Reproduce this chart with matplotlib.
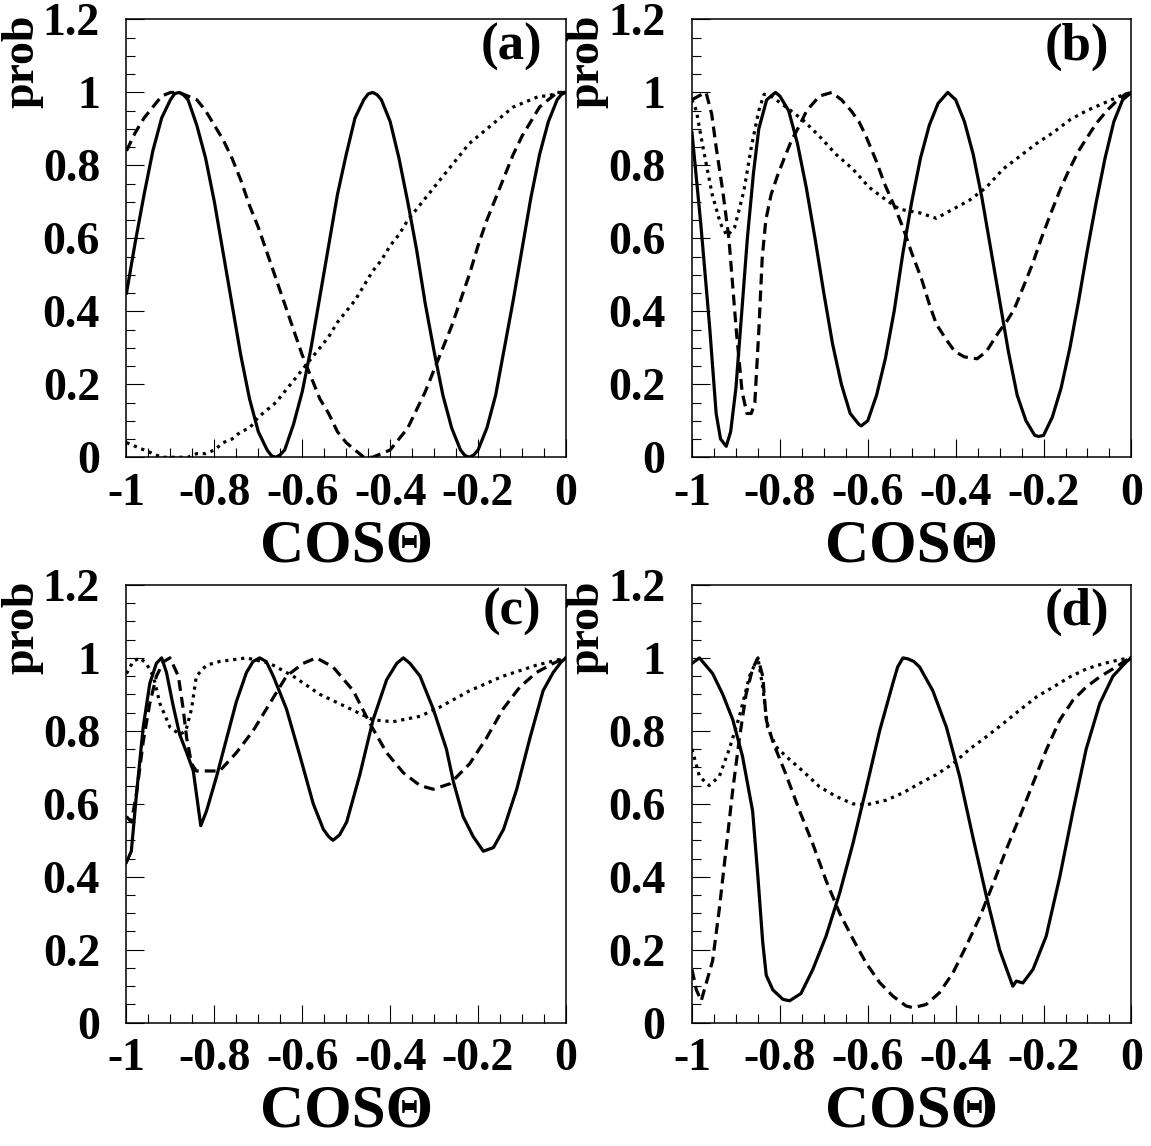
import numpy as np
import matplotlib.pyplot as plt
from matplotlib.ticker import MultipleLocator

plt.rcParams['font.family'] = ['Liberation Serif', 'DejaVu Serif']
plt.rcParams['font.weight'] = 'bold'

# ---- panel (a)
a_solid_x = [-1.00, -0.98, -0.96, -0.94, -0.92, -0.90, -0.89, -0.88, -0.87, -0.86, -0.84, -0.82, -0.80, -0.78,
             -0.76, -0.74, -0.72, -0.70, -0.68, -0.67, -0.66, -0.65, -0.64, -0.62, -0.60, -0.58, -0.56, -0.54,
             -0.52, -0.50, -0.48, -0.46, -0.45, -0.44, -0.43, -0.42, -0.40, -0.38, -0.36, -0.34, -0.32, -0.30,
             -0.28, -0.26, -0.24, -0.23, -0.22, -0.21, -0.20, -0.18, -0.16, -0.14, -0.12, -0.10, -0.08, -0.06,
             -0.04, -0.02, -0.01, 0.0]
a_solid_y = [0.45, 0.59, 0.72, 0.84, 0.93, 0.98, 0.997, 1.00, 0.993, 0.98, 0.91, 0.82, 0.70, 0.56, 0.42, 0.28,
             0.16, 0.07, 0.02, 0.004, 0.00, 0.007, 0.02, 0.09, 0.18, 0.30, 0.44, 0.58, 0.72, 0.83, 0.93, 0.98,
             0.996, 1.00, 0.994, 0.98, 0.92, 0.82, 0.70, 0.57, 0.42, 0.29, 0.17, 0.08, 0.02, 0.005, 0.00, 0.006,
             0.02, 0.08, 0.17, 0.30, 0.43, 0.57, 0.71, 0.83, 0.92, 0.98, 0.995, 1.00]
xa = np.round(np.arange(-1.0, 0.001, 0.02), 2)
a_dash = [0.84, 0.89, 0.93, 0.96, 0.99, 1.00, 1.00, 0.99, 0.98, 0.95, 0.91, 0.87, 0.82, 0.76, 0.69, 0.63, 0.56,
          0.49, 0.42, 0.35, 0.28, 0.22, 0.16, 0.12, 0.07, 0.04, 0.02, 0.00, 0.00, 0.01, 0.02, 0.05, 0.08, 0.13,
          0.18, 0.24, 0.30, 0.36, 0.43, 0.50, 0.58, 0.65, 0.71, 0.77, 0.83, 0.88, 0.92, 0.96, 0.98, 1.00, 1.00]
a_dot = [0.04, 0.03, 0.02, 0.01, 0.00, 0.00, 0.00, 0.00, 0.01, 0.01, 0.02, 0.04, 0.05, 0.07, 0.08, 0.11, 0.13,
         0.15, 0.18, 0.21, 0.24, 0.27, 0.30, 0.33, 0.37, 0.40, 0.43, 0.47, 0.51, 0.54, 0.58, 0.61, 0.65, 0.68,
         0.71, 0.74, 0.77, 0.80, 0.83, 0.86, 0.88, 0.90, 0.92, 0.94, 0.96, 0.97, 0.98, 0.99, 0.99, 1.00, 1.00]

# ---- panel (b)
b_solid_x = [-1.0, -0.98, -0.96, -0.945, -0.935, -0.922, -0.912, -0.90, -0.886, -0.874, -0.86, -0.848, -0.83,
             -0.81, -0.80, -0.78, -0.76, -0.74, -0.72, -0.70, -0.68, -0.66, -0.64, -0.62, -0.615, -0.60, -0.58,
             -0.56, -0.54, -0.52, -0.50, -0.48, -0.46, -0.44, -0.418, -0.40, -0.38, -0.36, -0.34, -0.32, -0.30,
             -0.28, -0.26, -0.24, -0.22, -0.211, -0.20, -0.18, -0.16, -0.14, -0.12, -0.10, -0.08, -0.06, -0.04,
             -0.02, 0.0]
b_solid_y = [0.89, 0.64, 0.36, 0.12, 0.05, 0.03, 0.07, 0.19, 0.41, 0.60, 0.78, 0.90, 0.98, 1.00, 0.99, 0.95,
             0.86, 0.74, 0.60, 0.45, 0.31, 0.20, 0.12, 0.09, 0.086, 0.10, 0.17, 0.27, 0.40, 0.56, 0.70, 0.82, 0.91,
             0.97, 1.00, 0.98, 0.92, 0.83, 0.71, 0.57, 0.43, 0.29, 0.17, 0.10, 0.06, 0.057, 0.06, 0.11, 0.19, 0.30,
             0.43, 0.57, 0.70, 0.82, 0.92, 0.98, 1.00]
b_dash_x = [-1.0, -0.985, -0.968, -0.955, -0.945, -0.93, -0.916, -0.899, -0.886, -0.875, -0.865, -0.857, -0.848,
            -0.840, -0.832, -0.82, -0.806, -0.79, -0.773, -0.755, -0.739, -0.71, -0.682, -0.66, -0.638, -0.62,
            -0.604, -0.58, -0.562, -0.54, -0.52, -0.50, -0.478, -0.46, -0.444, -0.42, -0.402, -0.38, -0.351,
            -0.33, -0.301, -0.285, -0.267, -0.245, -0.225, -0.205, -0.183, -0.16, -0.141, -0.12, -0.099, -0.08,
            -0.056, -0.035, -0.014, 0.0]
b_dash_y = [0.98, 0.99, 1.00, 0.94, 0.85, 0.73, 0.60, 0.345, 0.18, 0.12, 0.12, 0.15, 0.345, 0.55, 0.65, 0.72,
            0.77, 0.82, 0.87, 0.91, 0.95, 0.99, 1.00, 0.98, 0.95, 0.92, 0.88, 0.81, 0.75, 0.69, 0.63, 0.56, 0.49,
            0.42, 0.365, 0.32, 0.29, 0.275, 0.27, 0.29, 0.345, 0.37, 0.405, 0.47, 0.53, 0.60, 0.67, 0.74, 0.79,
            0.84, 0.88, 0.915, 0.95, 0.975, 0.995, 1.0]
b_dot_x = [-1.0, -0.99, -0.975, -0.954, -0.935, -0.92, -0.903, -0.882, -0.865, -0.848, -0.836, -0.82, -0.786,
           -0.748, -0.71, -0.672, -0.634, -0.597, -0.558, -0.528, -0.482, -0.444, -0.406, -0.368, -0.33, -0.292,
           -0.254, -0.216, -0.178, -0.14, -0.102, -0.064, -0.026, 0.0]
b_dot_y = [0.98, 0.95, 0.85, 0.72, 0.64, 0.607, 0.63, 0.73, 0.85, 0.95, 0.995, 0.99, 0.96, 0.925, 0.88, 0.83,
           0.79, 0.74, 0.705, 0.68, 0.67, 0.655, 0.68, 0.705, 0.74, 0.79, 0.825, 0.86, 0.89, 0.925, 0.95, 0.97,
           0.99, 1.0]

# ---- panel (c)
c_solid_x = [-1.0, -0.989, -0.977, -0.962, -0.947, -0.932, -0.92, -0.909, -0.894, -0.879, -0.863, -0.848,
             -0.831, -0.818, -0.795, -0.772, -0.75, -0.727, -0.712, -0.697, -0.682, -0.666, -0.636, -0.605,
             -0.575, -0.552, -0.54, -0.53, -0.515, -0.499, -0.469, -0.439, -0.408, -0.385, -0.37, -0.355, -0.332,
             -0.302, -0.272, -0.256, -0.234, -0.211, -0.188, -0.165, -0.142, -0.112, -0.082, -0.052, -0.029,
             -0.01, 0.0]
c_solid_y = [0.44, 0.47, 0.63, 0.81, 0.93, 0.985, 1.0, 0.96, 0.87, 0.79, 0.74, 0.69, 0.54, 0.58, 0.675, 0.78,
             0.88, 0.96, 0.99, 1.0, 0.99, 0.95, 0.86, 0.73, 0.60, 0.53, 0.51, 0.50, 0.515, 0.55, 0.68, 0.83, 0.94,
             0.985, 1.0, 0.985, 0.95, 0.86, 0.75, 0.66, 0.565, 0.51, 0.47, 0.48, 0.53, 0.64, 0.78, 0.91, 0.96,
             0.99, 1.0]
c_dash_x = [-1.0, -0.989, -0.977, -0.962, -0.947, -0.932, -0.915, -0.901, -0.882, -0.871, -0.863, -0.852,
            -0.841, -0.826, -0.788, -0.75, -0.712, -0.674, -0.636, -0.598, -0.568, -0.53, -0.484, -0.446,
            -0.408, -0.37, -0.332, -0.302, -0.264, -0.219, -0.181, -0.143, -0.105, -0.067, -0.029, 0.0]
c_dash_y = [0.565, 0.55, 0.63, 0.77, 0.875, 0.95, 0.99, 1.0, 0.95, 0.86, 0.78, 0.71, 0.69, 0.69, 0.69, 0.74,
            0.80, 0.875, 0.95, 0.985, 1.0, 0.975, 0.91, 0.82, 0.74, 0.685, 0.65, 0.64, 0.655, 0.71, 0.78, 0.86,
            0.92, 0.96, 0.985, 1.0]
c_dot_x = [-1.0, -0.985, -0.97, -0.955, -0.939, -0.924, -0.901, -0.879, -0.865, -0.852, -0.841, -0.818, -0.788,
           -0.727, -0.674, -0.621, -0.56, -0.499, -0.439, -0.393, -0.332, -0.287, -0.219, -0.143, -0.067, 0.0]
c_dot_y = [0.957, 0.99, 1.0, 0.985, 0.95, 0.875, 0.81, 0.79, 0.80, 0.86, 0.95, 0.98, 0.99, 1.0, 0.985, 0.95,
           0.90, 0.865, 0.83, 0.825, 0.84, 0.865, 0.91, 0.95, 0.98, 1.0]

# ---- panel (d)
d_solid_x = [-1.0, -0.983, -0.953, -0.93, -0.907, -0.885, -0.862, -0.85, -0.839, -0.831, -0.816, -0.793, -0.778,
             -0.752, -0.725, -0.695, -0.664, -0.634, -0.604, -0.573, -0.543, -0.532, -0.52, -0.508, -0.495,
             -0.482, -0.452, -0.421, -0.391, -0.361, -0.33, -0.30, -0.27, -0.262, -0.247, -0.224, -0.194, -0.163,
             -0.133, -0.103, -0.072, -0.042, -0.011, 0.0]
d_solid_y = [0.985, 1.0, 0.957, 0.90, 0.83, 0.73, 0.58, 0.40, 0.22, 0.13, 0.09, 0.064, 0.06, 0.08, 0.146, 0.237,
             0.355, 0.49, 0.64, 0.80, 0.93, 0.975, 1.0, 0.997, 0.99, 0.975, 0.91, 0.81, 0.675, 0.51, 0.346, 0.20,
             0.10, 0.114, 0.109, 0.146, 0.237, 0.40, 0.58, 0.75, 0.875, 0.95, 0.99, 1.0]
d_dash_x = [-1.0, -0.99, -0.979, -0.953, -0.938, -0.923, -0.907, -0.892, -0.877, -0.862, -0.85, -0.839, -0.831,
            -0.816, -0.786, -0.755, -0.725, -0.695, -0.664, -0.634, -0.604, -0.573, -0.543, -0.513, -0.497,
            -0.467, -0.437, -0.406, -0.376, -0.345, -0.315, -0.285, -0.254, -0.224, -0.194, -0.163, -0.133,
            -0.103, -0.072, -0.042, -0.011, 0.0]
d_dash_y = [0.146, 0.09, 0.06, 0.17, 0.31, 0.47, 0.64, 0.78, 0.90, 0.97, 1.0, 0.95, 0.83, 0.77, 0.68, 0.58, 0.49,
            0.39, 0.30, 0.23, 0.164, 0.11, 0.073, 0.046, 0.041, 0.05, 0.082, 0.137, 0.21, 0.29, 0.38, 0.474,
            0.565, 0.656, 0.747, 0.83, 0.884, 0.92, 0.948, 0.97, 0.994, 1.0]
d_dot_x = [-1.0, -0.983, -0.961, -0.938, -0.915, -0.892, -0.869, -0.854, -0.85, -0.839, -0.828, -0.809, -0.786,
           -0.748, -0.71, -0.672, -0.634, -0.604, -0.558, -0.52, -0.482, -0.444, -0.406, -0.368, -0.33, -0.292,
           -0.254, -0.216, -0.178, -0.14, -0.102, -0.065, -0.027, 0.0]
d_dot_y = [0.75, 0.675, 0.65, 0.675, 0.75, 0.84, 0.95, 0.99, 1.0, 0.92, 0.81, 0.757, 0.73, 0.69, 0.647, 0.62,
           0.60, 0.597, 0.61, 0.63, 0.656, 0.68, 0.71, 0.75, 0.784, 0.82, 0.857, 0.893, 0.92, 0.948, 0.97, 0.984,
           0.995, 1.0]

panels = [
    ('(a)', (a_solid_x, a_solid_y), (xa, a_dash), (xa, a_dot)),
    ('(b)', (b_solid_x, b_solid_y), (b_dash_x, b_dash_y), (b_dot_x, b_dot_y)),
    ('(c)', (c_solid_x, c_solid_y), (c_dash_x, c_dash_y), (c_dot_x, c_dot_y)),
    ('(d)', (d_solid_x, d_solid_y), (d_dash_x, d_dash_y), (d_dot_x, d_dot_y)),
]
xticks = [-1, -0.8, -0.6, -0.4, -0.2, 0]
xticklabels = ['-1', '-0.8', '-0.6', '-0.4', '-0.2', '0']
yticks = [0, 0.2, 0.4, 0.6, 0.8, 1.0, 1.2]
yticklabels = ['0', '0.2', '0.4', '0.6', '0.8', '1', '1.2']

# axes rectangles in figure fractions
lefts = [0.1099, 0.6012, 0.1099, 0.6012]
bottoms = [0.601, 0.601, 0.1076, 0.1076]
w, h = 0.3818, 0.382

fig = plt.figure(figsize=(11.51, 11.46), dpi=100)
lw = 2.3
for k, (lab, s, d, o) in enumerate(panels):
    ax = fig.add_axes([lefts[k], bottoms[k], w, h])
    ax.plot(s[0], s[1], color='black', lw=lw, solid_joinstyle='round')
    ax.plot(d[0], d[1], color='black', lw=lw, dashes=(3.4, 1.9), dash_capstyle='butt')
    ax.plot(o[0], o[1], color='black', lw=lw, dashes=(1.0, 1.5), dash_capstyle='butt')
    ax.set_xlim(-1, 0)
    ax.set_ylim(0, 1.2)
    ax.set_xticks(xticks)
    ax.set_xticklabels(xticklabels)
    ax.set_yticks(yticks)
    ax.set_yticklabels(yticklabels)
    ax.xaxis.set_minor_locator(MultipleLocator(0.05))
    ax.yaxis.set_minor_locator(MultipleLocator(0.05))
    ax.tick_params(which='both', direction='in', top=False, right=False, width=0.8)
    ax.tick_params(which='major', length=13)
    ax.tick_params(which='minor', length=6.5)
    ax.tick_params(axis='y', which='major', labelsize=33, pad=19)
    ax.tick_params(axis='x', which='major', labelsize=33, pad=11)
    for sp in ax.spines.values():
        sp.set_linewidth(1.1)
    ax.set_xlabel('COSΘ', fontsize=44, fontweight='bold')
    ax.xaxis.set_label_coords(0.5, -0.14)
    ax.set_ylabel('prob', fontsize=33, fontweight='bold', loc='top')
    ax.yaxis.set_label_coords(-0.19, 1.01)
    ax.text(0.876, 0.938, lab, transform=ax.transAxes, ha='center', va='center', fontsize=38, fontweight='bold')

fig.savefig('out.png', dpi=100)
